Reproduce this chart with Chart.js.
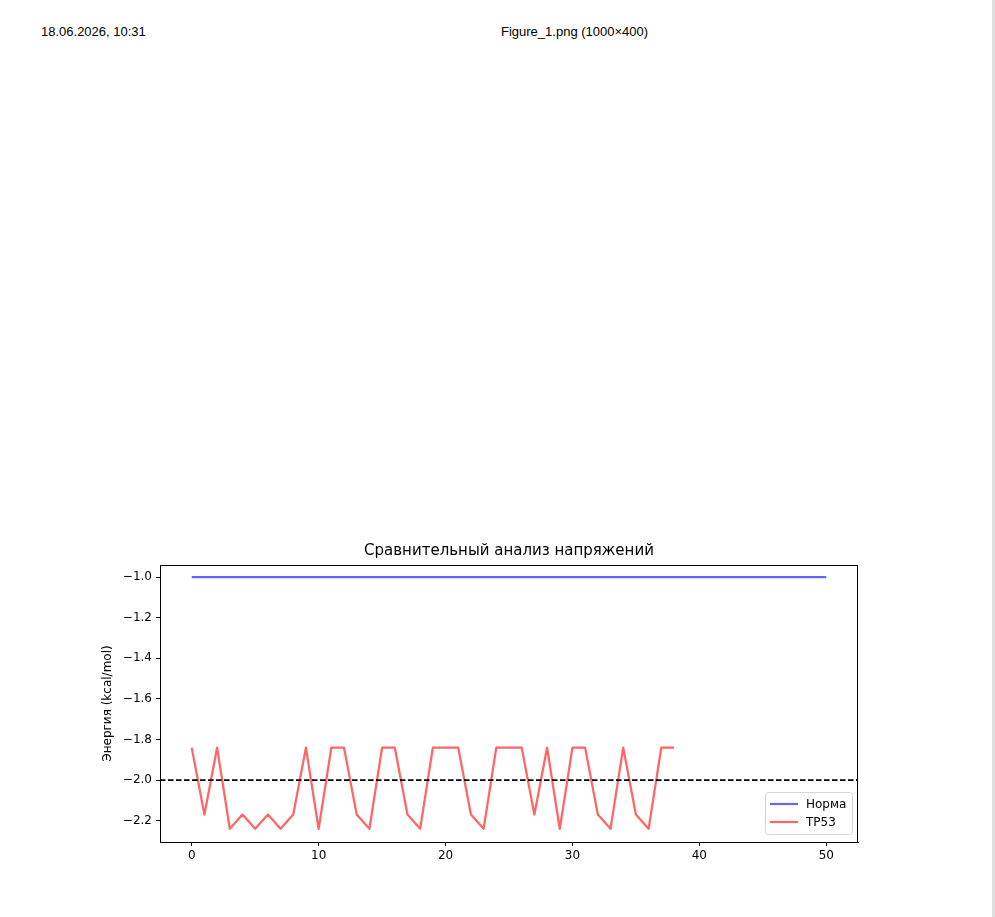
<!DOCTYPE html>
<html>
<head>
<meta charset="utf-8">
<script src="https://cdn.jsdelivr.net/npm/chart.js@4/dist/chart.umd.min.js"></script>
<style>
  body { margin: 0; background: #fff; width: 995px; height: 917px; position: relative; overflow: hidden; }
  .hdr { position: absolute; top: 24px; font: 13px "Liberation Sans", Arial, sans-serif; color: #000; }
  #edge { position: absolute; top: 0; right: 0; width: 3px; height: 917px; background: #dedede; }
  #energyChart { position: absolute; left: 0; top: 530px; }
</style>
</head>
<body>
<div class="hdr" style="left:41px">18.06.2026, 10:31</div>
<div class="hdr" style="left:501px">Figure_1.png (1000×400)</div>
<div id="edge"></div>
<canvas id="energyChart" width="995" height="360"></canvas>
<script>
const norma = [
  -1.0, -1.0, -1.0, -1.0, -1.0, -1.0, -1.0, -1.0, -1.0, -1.0,
  -1.0, -1.0, -1.0, -1.0, -1.0, -1.0, -1.0, -1.0, -1.0, -1.0,
  -1.0, -1.0, -1.0, -1.0, -1.0, -1.0, -1.0, -1.0, -1.0, -1.0,
  -1.0, -1.0, -1.0, -1.0, -1.0, -1.0, -1.0, -1.0, -1.0, -1.0,
  -1.0, -1.0, -1.0, -1.0, -1.0, -1.0, -1.0, -1.0, -1.0, -1.0,
  -1.0,
];
const tp53 = [
  -1.84, -2.17, -1.84, -2.24, -2.17, -2.24, -2.17, -2.24, -2.17, -1.84,
  -2.24, -1.84, -1.84, -2.17, -2.24, -1.84, -1.84, -2.17, -2.24, -1.84,
  -1.84, -1.84, -2.17, -2.24, -1.84, -1.84, -1.84, -2.17, -1.84, -2.24,
  -1.84, -1.84, -2.17, -2.24, -1.84, -2.17, -2.24, -1.84, -1.84,
];
const threshold = -2.0;
const xTicks = [0, 10, 20, 30, 40, 50];
const yTicks = [-2.2, -2.0, -1.8, -1.6, -1.4, -1.2, -1.0];
const xRange = [-2.5, 52.5];
const yRange = [-2.305, -0.94];

function minus(v) {
  return String(v).replace("-", "\u2212");
}

// frame on all four sides + legend inside lower right
const framePlugin = {
  id: "frame",
  afterDraw(chart) {
    const { ctx, chartArea: a } = chart;
    ctx.save();
    ctx.strokeStyle = "#000";
    ctx.lineWidth = 1;
    ctx.strokeRect(a.left + 0.5, a.top + 0.5, a.right - a.left - 1, a.bottom - a.top);

    const items = chart.data.datasets.filter((d) => d.label);
    const w = 87, rowH = 18;
    const h = items.length * rowH + 6;
    const x0 = a.right - w - 6, y0 = a.bottom - h - 8;
    ctx.beginPath();
    ctx.roundRect(x0 + 0.5, y0 + 0.5, w, h, 3);
    ctx.fillStyle = "rgba(255,255,255,0.8)";
    ctx.fill();
    ctx.strokeStyle = "#d6d6d6";
    ctx.stroke();
    ctx.font = '12px "DejaVu Sans"';
    ctx.textBaseline = "middle";
    items.forEach((d, i) => {
      const y = y0 + 3 + rowH * i + rowH / 2;
      ctx.beginPath();
      ctx.moveTo(x0 + 5, y);
      ctx.lineTo(x0 + 33, y);
      ctx.strokeStyle = d.borderColor;
      ctx.lineWidth = 2.2;
      ctx.stroke();
      ctx.fillStyle = "#000";
      ctx.fillText(d.label, x0 + 41, y + 1);
    });
    ctx.restore();
  },
};

function renderEnergyChart() {
  const ctx = document.getElementById("energyChart").getContext("2d");

  new Chart(ctx, {
    type: "line",
    data: {
      datasets: [
        {
          label: "",
          data: [
            { x: xRange[0], y: threshold },
            { x: xRange[1], y: threshold },
          ],
          borderColor: "#000",
          borderWidth: 1.7,
          borderDash: [5.5, 2.5],
          pointRadius: 0,
        },
        {
          label: "Норма",
          data: norma.map((v, i) => ({ x: i, y: v })),
          borderColor: "rgba(0,0,255,0.6)",
          borderWidth: 2.2,
          pointRadius: 0,
        },
        {
          label: "TP53",
          data: tp53.map((v, i) => ({ x: i, y: v })),
          borderColor: "rgba(255,0,0,0.6)",
          borderWidth: 2.3,
          borderJoinStyle: "round",
          pointRadius: 0,
        },
      ],
    },
    options: {
      responsive: false,
      animation: false,
      layout: { padding: { left: 97, right: 137, top: 0, bottom: 18 } },
      plugins: {
        legend: { display: false },
        tooltip: { enabled: false },
        title: {
          display: true,
          fullSize: false,
          text: "Сравнительный анализ напряжений",
          color: "#000",
          font: { family: "DejaVu Sans", size: 15, weight: "normal" },
          padding: { top: 12, bottom: 5 },
        },
      },
      scales: {
        x: {
          type: "linear",
          min: xRange[0],
          max: xRange[1],
          afterBuildTicks: (s) => {
            s.ticks = xTicks.map((v) => ({ value: v }));
          },
          afterFit: (s) => {
            s.height = 30;
          },
          ticks: {
            color: "#000",
            padding: 3,
            font: { family: "DejaVu Sans", size: 12 },
            callback: (v) => minus(v),
          },
          grid: { drawOnChartArea: false, tickLength: 4, color: "#000" },
          border: { color: "#000" },
        },
        y: {
          min: yRange[0],
          max: yRange[1],
          afterBuildTicks: (s) => {
            s.ticks = yTicks.map((v) => ({ value: v }));
          },
          afterFit: (s) => {
            s.width = 63;
          },
          title: {
            display: true,
            text: "Энергия (kcal/mol)",
            color: "#000",
            font: { family: "DejaVu Sans", size: 12 },
          },
          ticks: {
            color: "#000",
            padding: 4,
            font: { family: "DejaVu Sans", size: 12 },
            callback: (v) => minus(v.toFixed(1)),
          },
          grid: { drawOnChartArea: false, tickLength: 4, color: "#000" },
          border: { color: "#000" },
        },
      },
    },
    plugins: [framePlugin],
  });
}

renderEnergyChart();
</script>
</body>
</html>
